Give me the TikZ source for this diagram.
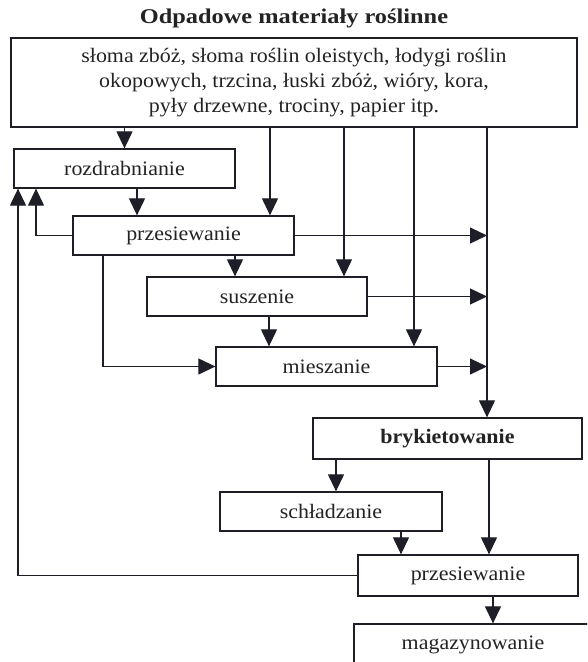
\documentclass[tikz,border=0pt]{standalone}
\usepackage{fontspec}
\setmainfont[FakeStretch=1.07]{Liberation Serif}
\newfontfamily\ttlfont[FakeStretch=1.16]{Liberation Serif}
\usetikzlibrary{arrows.meta}
\definecolor{linec}{RGB}{30,30,40}
\definecolor{textc}{RGB}{35,35,35}
\begin{document}
\begin{tikzpicture}[x=1pt,y=-1pt,
  box/.style={draw=linec, line width=1.3pt, fill=white, text=textc, inner sep=0pt,
    font=\fontsize{20.5}{25}\selectfont},
  arr/.style={-{Triangle[length=17pt 0 0,width=16pt 0 0]}, draw=linec, line width=1.2pt},
  ttl/.style={text=textc, font=\ttlfont\bfseries\fontsize{21}{25}\selectfont}]
\useasboundingbox (0,0) rectangle (587,662);
\clip (0,0) rectangle (587,662);
\fill[white] (0,0) rectangle (587,662);

\node[ttl] (title) at (294,18) {Odpadowe materiały roślinne};
\node[box, minimum width=566pt, minimum height=89pt, align=center] (top) at (294,82.5)
  {słoma zbóż, słoma roślin oleistych, łodygi roślin\\
   okopowych, trzcina, łuski zbóż, wióry, kora,\\
   pyły drzewne, trociny, papier itp.};
\node[box, minimum width=221pt, minimum height=39pt] (roz) at (124.5,168.5) {rozdrabnianie};
\node[box, minimum width=221pt, minimum height=39pt] (prz1) at (183.5,235.5) {przesiewanie};
\node[box, minimum width=220pt, minimum height=39pt] (sus) at (257,296.5) {suszenie};
\node[box, minimum width=221pt, minimum height=39pt] (mie) at (326.5,366.5) {mieszanie};
\node[box, minimum width=269pt, minimum height=41pt, font=\bfseries\fontsize{20.5}{25}\selectfont] (bry) at (447.5,438.5) {brykietowanie};
\node[box, minimum width=222pt, minimum height=39pt] (sch) at (331,511.5) {schładzanie};
\node[box, minimum width=220pt, minimum height=41pt] (prz2) at (468,575.5) {przesiewanie};
\node[box, minimum width=238pt, minimum height=42pt] (mag) at (473,645) {magazynowanie};

\coordinate (c2) at (270,0);
\coordinate (c3) at (344,0);
\coordinate (c4) at (414,0);
\coordinate (c5) at (487,0);
\coordinate (c6) at (137,0);
\coordinate (c7) at (36,0);
\coordinate (c9) at (235,0);
\coordinate (c10) at (103,0);
\coordinate (c12) at (269,0);
\coordinate (c14) at (336,0);
\coordinate (c15) at (489,0);
\coordinate (c16) at (401,0);
\coordinate (c17) at (18,0);
\coordinate (c18) at (493,0);

\draw[arr] (roz.north |- top.south) -- (roz.north);
\draw[arr] (c2 |- top.south) -- (c2 |- prz1.north);
\draw[arr] (c3 |- top.south) -- (c3 |- sus.north);
\draw[arr] (c4 |- top.south) -- (c4 |- mie.north);
\draw[arr] (c5 |- top.south) -- (c5 |- bry.north);
\draw[arr] (c6 |- roz.south) -- (c6 |- prz1.north);
\draw[arr] (prz1.west) -- (prz1.west -| c7) -- (c7 |- roz.south);
\draw[arr] (prz1.east) -- (prz1.east -| c5);
\draw[arr] (c9 |- prz1.south) -- (c9 |- sus.north);
\draw[arr] (c10 |- prz1.south) -- (c10 |- mie.west) -- (mie.west);
\draw[arr] (sus.east) -- (sus.east -| c5);
\draw[arr] (c12 |- sus.south) -- (c12 |- mie.north);
\draw[arr] (mie.east) -- (mie.east -| c5);
\draw[arr] (c14 |- bry.south) -- (c14 |- sch.north);
\draw[arr] (c15 |- bry.south) -- (c15 |- prz2.north);
\draw[arr] (c16 |- sch.south) -- (c16 |- prz2.north);
\draw[arr] (prz2.west) -- (prz2.west -| c17) -- (c17 |- roz.south);
\draw[arr] (c18 |- prz2.south) -- (c18 |- mag.north);
\end{tikzpicture}
\end{document}
